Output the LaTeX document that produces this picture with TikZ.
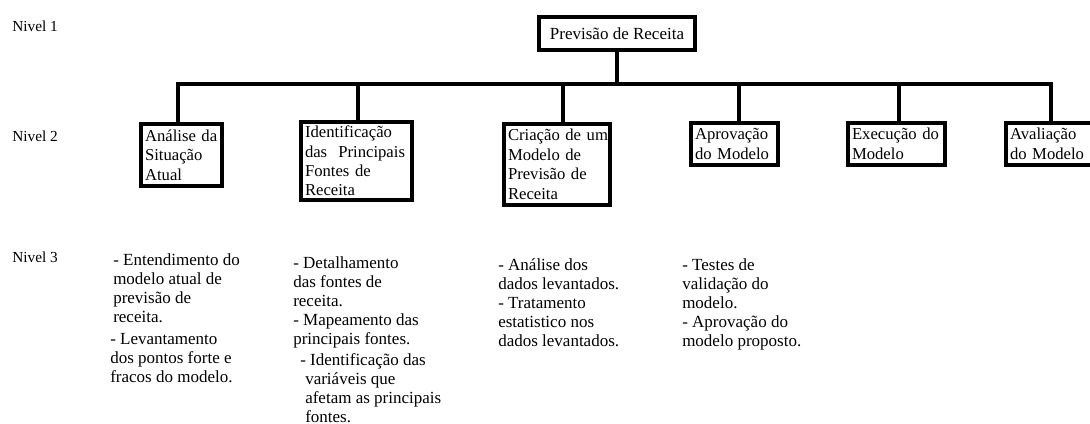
\documentclass[tikz,border=0pt]{standalone}
\usepackage{fontspec}
\setmainfont{Liberation Serif}
\begin{document}
\begin{tikzpicture}[x=0.75pt,y=-0.75pt,
  conn/.style={line width=3pt},
  topbox/.style={draw,line width=3pt,font=\fontsize{12.75}{14.6}\selectfont,minimum height=24.75pt,minimum width=117pt,inner sep=0pt},
  lvbox/.style={draw,line width=3pt,font=\fontsize{12.5}{14.6}\selectfont,align=left,inner xsep=3pt,inner ysep=0pt},
  lvtext/.style={font=\fontsize{12.75}{14.25}\selectfont,align=left,inner sep=0pt,anchor=north west},
  nivel/.style={font=\fontsize{11.5}{13}\selectfont,anchor=west,inner sep=0pt}]
\path[use as bounding box,fill=white] (0,0) rectangle (1090,424);

% level labels
\node[nivel] (n1) at (12,26) {Nivel 1};
\node[nivel] (n2) at (12,136) {Nivel 2};
\node[nivel] (n3) at (12,257) {Nivel 3};

% level 1
\node[topbox] (top) at (617,33.5) {Previsão de Receita};

% level 2
\node[lvbox,text width=54.75pt,minimum height=46.5pt] (b1) at (181.5,155)
  {\mbox{Análise da}\\Situação\\Atual};
\node[lvbox,text width=77.25pt,minimum height=58.5pt] (b2) at (356.5,161)
  {Identificação\\\mbox{das\ \ Principais}\\\mbox{Fontes de}\\Receita};
\node[lvbox,text width=73.5pt,minimum height=60.75pt] (b3) at (557,164.5)
  {\mbox{Criação de um}\\\mbox{Modelo de}\\\mbox{Previsão de}\\Receita};
\node[lvbox,text width=59.25pt,minimum height=31.5pt] (b4) at (734.5,144)
  {Aprovação\\\mbox{do Modelo}};
\node[lvbox,text width=66.75pt,minimum height=31.5pt] (b5) at (896.5,144)
  {\mbox{Execução do}\\Modelo};
\node[lvbox,text width=60pt,minimum height=31.5pt] (b6) at (1050,144)
  {Avaliação\\\mbox{do Modelo}};

% connectors
\coordinate (x1) at (178,84);
\coordinate (x2) at (358,84);
\coordinate (x3) at (563,84);
\coordinate (x4) at (739,84);
\coordinate (x5) at (899,84);
\coordinate (x6) at (1051,84);
\draw[conn] (top.south) -- (top.south |- x1);
\draw[conn] (x1 |- b1.north) -- (x1) -- (x6) -- (x6 |- b6.north);
\draw[conn] (x2) -- (x2 |- b2.north);
\draw[conn] (x3) -- (x3 |- b3.north);
\draw[conn] (x4) -- (x4 |- b4.north);
\draw[conn] (x5) -- (x5 |- b5.north);

% level 3
\node[lvtext] (t1a) at (113,253) {- Entendimento do\\modelo atual de\\previsão de\\receita.};
\node[lvtext] (t1b) at (110,333) {- Levantamento\\dos pontos forte e\\fracos do modelo.};
\node[lvtext] (t2a) at (293,256) {- Detalhamento\\das fontes de\\receita.\\- Mapeamento das\\principais fontes.};
\node[lvtext] (t2b) at (300,353) {- Identificação das\\\hspace*{3.75pt}variáveis que\\\hspace*{3.75pt}afetam as principais\\\hspace*{3.75pt}fontes.};
\node[lvtext] (t3) at (498,258) {- Análise dos\\dados levantados.\\- Tratamento\\estatistico nos\\dados levantados.};
\node[lvtext] (t4) at (682,258) {- Testes de\\validação do\\modelo.\\- Aprovação do\\modelo proposto.};
\end{tikzpicture}
\end{document}
